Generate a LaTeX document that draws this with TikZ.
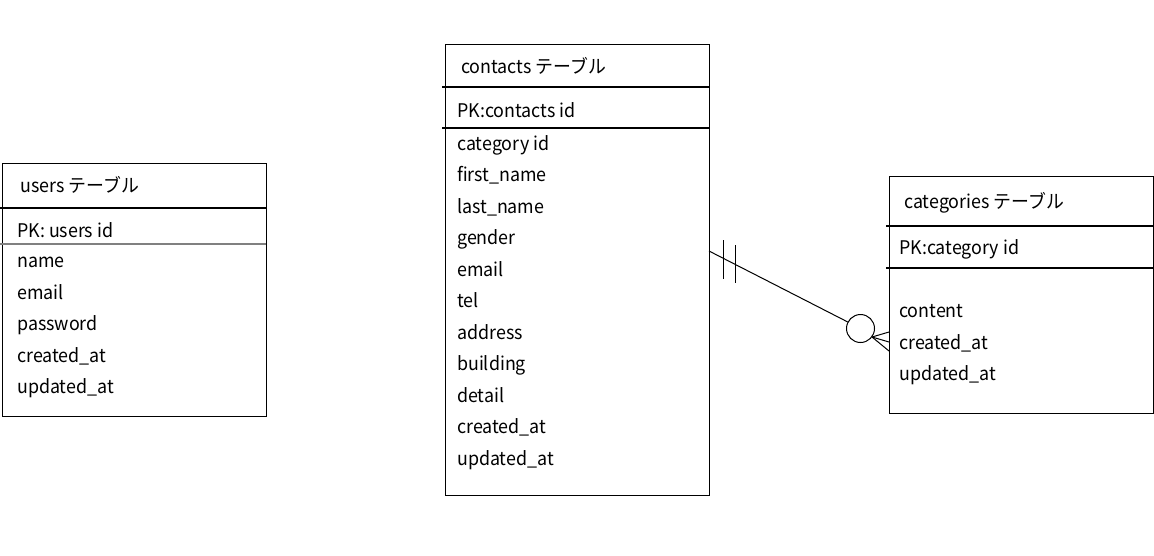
\documentclass[tikz,border=0pt]{standalone}
\usepackage{fontspec}
\setmainfont{Noto Sans CJK JP}[FakeStretch=0.95]
\begin{document}
\begin{tikzpicture}[x=1pt,y=-1pt,
  tbox/.style={draw,line width=1.1pt,inner sep=0,anchor=north west,minimum width=264pt},
  field/.style={inner sep=0,anchor=base west,font=\fontsize{18.8}{20}\selectfont},
  divider/.style={line width=1.1pt},
  rel/.style={line width=1pt}]
\useasboundingbox[fill=white] (0,0) rectangle (1154,555);

% users table
\node[tbox,minimum height=253pt] (users) at (2,163) {};
\draw[divider] (0,208) -- (266,208);
\draw[divider,gray] (0,244) -- (266,244);
\node[field] (u0) at (20,192) {users テーブル};
\node[field] (u1) at (17,237) {PK: users id};
\node[field] (u2) at (17,267.5) {name};
\node[field] (u3) at (17,299) {email};
\node[field] (u4) at (17,330.5) {password};
\node[field] (u5) at (17,362) {created\_at};
\node[field] (u6) at (17,393.5) {updated\_at};

% contacts table
\node[tbox,minimum height=451pt] (contacts) at (445,44) {};
\draw[divider] (442,87) -- (709,87);
\draw[divider] (442,128) -- (709,128);
\node[field] (c0) at (461,73.5) {contacts テーブル};
\node[field] (c1) at (457,117.5) {PK:contacts id};
\node[field] (c2) at (457,150) {category id};
\node[field] (c3) at (457,181.5) {first\_name};
\node[field] (c4) at (457,213) {last\_name};
\node[field] (c5) at (457,244.5) {gender};
\node[field] (c6) at (457,276) {email};
\node[field] (c7) at (457,307.5) {tel};
\node[field] (c8) at (457,339) {address};
\node[field] (c9) at (457,370.5) {building};
\node[field] (c10) at (457,402) {detail};
\node[field] (c11) at (457,433.5) {created\_at};
\node[field] (c12) at (457,465) {updated\_at};

% categories table
\node[tbox,minimum height=237pt] (categories) at (889,176) {};
\draw[divider] (886,226) -- (1153,226);
\draw[divider] (886,268) -- (1153,268);
\node[field] (k0) at (904,208.5) {categories テーブル};
\node[field] (k1) at (899,254.5) {PK:category id};
\node[field] (k2) at (899,317.5) {content};
\node[field] (k3) at (899,349) {created\_at};
\node[field] (k4) at (899,380.5) {updated\_at};

% relationship
\coordinate (ra) at (709,251);
\node[draw,circle,rel,minimum size=28pt,inner sep=0] (oc) at (860.5,328.5) {};
\coordinate (cf) at (872,337);
\coordinate (e1) at (889,332);
\coordinate (e2) at (889,342);
\coordinate (e3) at (889,351);
\draw[rel] (ra) -- (oc);
\draw[rel] (723,240) -- (723,279);
\draw[rel] (735,245) -- (735,283);
\draw[rel] (cf) -- (e1);
\draw[rel] (cf) -- (e2);
\draw[rel] (cf) -- (e3);
\end{tikzpicture}
\end{document}
